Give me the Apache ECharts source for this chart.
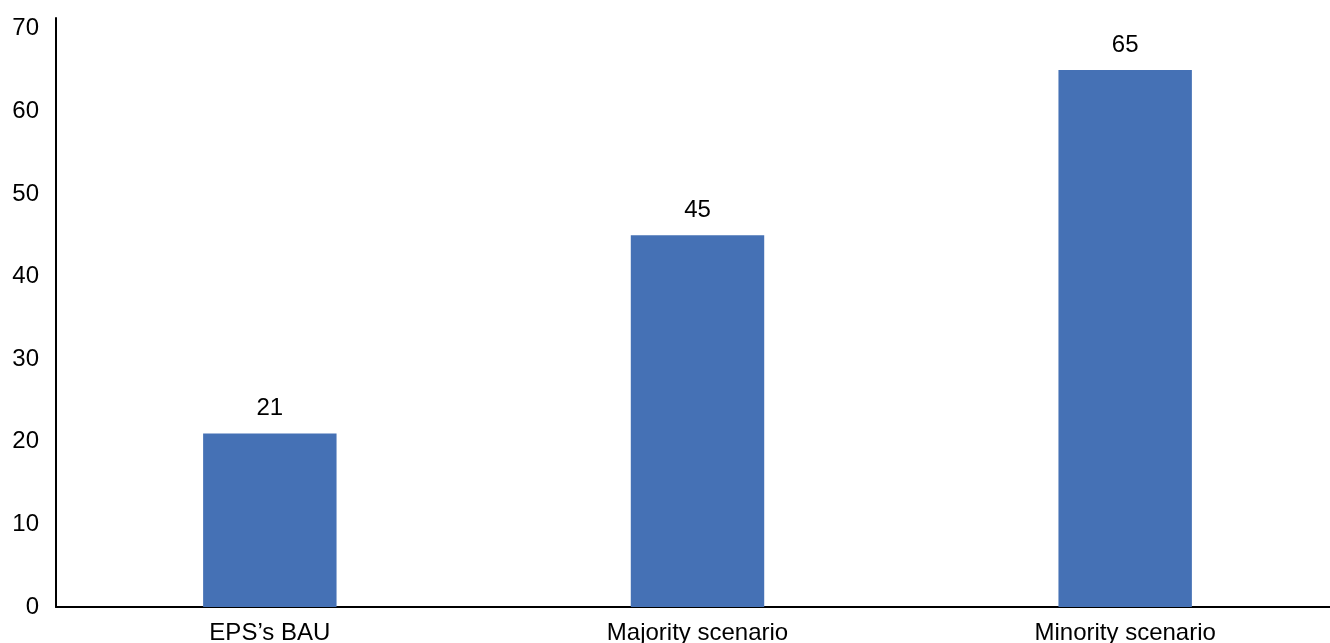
<!DOCTYPE html>
<html>
<head>
<meta charset="utf-8">
<script src="https://cdn.jsdelivr.net/npm/echarts@6/dist/echarts.min.js"></script>
<style>
html,body{margin:0;padding:0;background:#fff;}
#chart{width:1330px;height:643px;}
</style>
</head>
<body>
<div id="chart"></div>
<script>
const categories = ["EPS\u2019s BAU", "Majority scenario", "Minority scenario"];
const values = [21, 45, 65];
const yTicks = [0, 10, 20, 30, 40, 50, 60, 70];

const FONT = '"Liberation Sans", Arial, Helvetica, sans-serif';
const chart = echarts.init(document.getElementById('chart'));
chart.setOption({
  animation: false,
  backgroundColor: '#ffffff',
  grid: { left: 56, width: 1283, top: 18, bottom: 36, containLabel: false, outerBoundsMode: 'none' },
  xAxis: {
    type: 'category',
    data: categories,
    axisLine: { show: true, lineStyle: { color: '#000', width: 2 } },
    axisTick: { show: false },
    axisLabel: { color: '#000', fontSize: 24, fontFamily: FONT, margin: 14 }
  },
  yAxis: {
    type: 'value',
    min: 0,
    max: 71.3,
    interval: 10,
    splitLine: { show: false },
    axisLine: { show: true, lineStyle: { color: '#000', width: 2 } },
    axisTick: { show: false },
    axisLabel: {
      color: '#000', fontSize: 24, fontFamily: FONT, margin: 17,
      showMaxLabel: true,
      formatter: function (v) { return yTicks.indexOf(v) >= 0 ? String(v) : ''; }
    }
  },
  series: [{
    type: 'bar',
    data: values,
    barWidth: '31.2%',
    itemStyle: { color: '#4571b5' },
    label: {
      show: true, position: 'top', distance: 13,
      color: '#000', fontSize: 24, fontFamily: FONT
    }
  }]
});
</script>
</body>
</html>
